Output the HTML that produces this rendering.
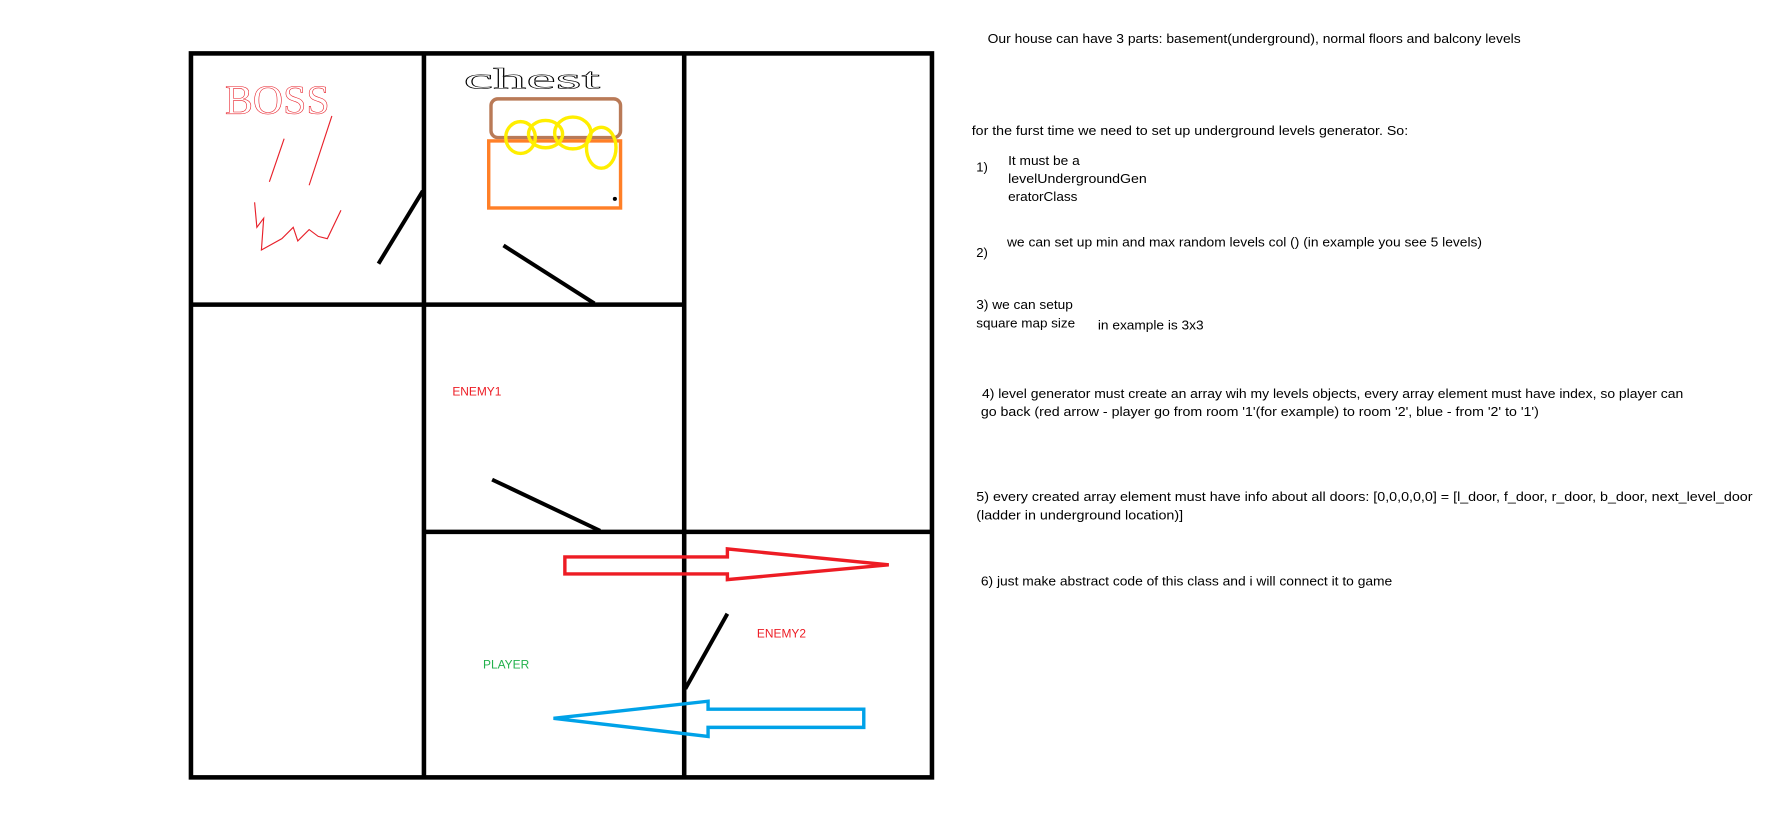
<!DOCTYPE html>
<html><head><meta charset="utf-8"><style>html,body{margin:0;padding:0;background:#fff}svg{display:block}</style></head><body>
<svg width="1773" height="820" viewBox="0 0 1560 721.5" xmlns="http://www.w3.org/2000/svg">
<rect width="1560" height="721.5" fill="#fff"/>
<g stroke="#000" stroke-width="4" fill="none">
<rect x="168" y="47" width="652" height="637"/>
<line x1="373" y1="47" x2="373" y2="684"/>
<line x1="602" y1="47" x2="602" y2="684"/>
<line x1="168" y1="268" x2="602" y2="268"/>
<line x1="373" y1="468" x2="820" y2="468"/>
<line x1="333" y1="232" x2="372" y2="168" stroke-width="3.5"/>
<line x1="443" y1="216" x2="523" y2="267" stroke-width="3.5"/>
<line x1="433" y1="422" x2="528" y2="467" stroke-width="3.5"/>
<line x1="640" y1="540" x2="603" y2="606" stroke-width="3.5"/>
</g>
<rect x="432" y="87" width="114" height="34" rx="6" fill="none" stroke="#b97a57" stroke-width="3"/>
<rect x="430" y="124" width="116" height="59" fill="none" stroke="#ff7f27" stroke-width="3"/>
<circle cx="541" cy="175" r="1.8" fill="#000"/>
<g fill="none" stroke="#ffee00" stroke-width="3">
<ellipse cx="458" cy="121" rx="13" ry="14"/>
<ellipse cx="480" cy="118" rx="15" ry="12"/>
<ellipse cx="504" cy="117" rx="16" ry="14"/>
<ellipse cx="529" cy="130" rx="13" ry="18"/>
</g>
<text x="408" y="78" font-family="Liberation Serif, serif" font-size="26" fill="none" stroke="#000" stroke-width="0.5" textLength="120" lengthAdjust="spacingAndGlyphs">chest</text>
<text x="198" y="100" font-family="Liberation Serif, serif" font-size="36" fill="none" stroke="#e8202a" stroke-width="0.5" textLength="92" lengthAdjust="spacingAndGlyphs">BOSS</text>
<g fill="none" stroke="#e8202a" stroke-width="1">
<line x1="250" y1="122" x2="237" y2="160"/>
<line x1="292" y1="102" x2="272" y2="163"/>
<polyline points="224,178 226,200 232,192 230,220 248,210 258,200 262,212 272,202 280,208 288,210 300,185"/>
</g>
<g fill="none" stroke-width="3">
<polygon points="497,490 640,490 640,483 782,497 640,510 640,505 497,505" stroke="#ed1c24"/>
<polygon points="760,624 623,624 623,617 487,632 623,648 623,640 760,640" stroke="#00a2e8"/>
</g>
<g font-family="Liberation Sans, sans-serif" font-size="10.5">
<text x="398" y="348" fill="#ed1c24">ENEMY1</text>
<text x="425" y="588" fill="#22b14c">PLAYER</text>
<text x="666" y="561" fill="#ed1c24">ENEMY2</text>
</g>
<g font-family="Liberation Sans, sans-serif" font-size="11.5" fill="#000" transform="translate(-3,0)">
<text x="872" y="38" textLength="469" lengthAdjust="spacingAndGlyphs">Our house can have 3 parts: basement(underground), normal floors and balcony levels</text>
<text x="858" y="119" textLength="384" lengthAdjust="spacingAndGlyphs">for the furst time we need to set up underground levels generator. So:</text>
<text x="862" y="151">1)</text>
<text x="890" y="145" textLength="63" lengthAdjust="spacingAndGlyphs">It must be a</text>
<text x="890" y="161" textLength="122" lengthAdjust="spacingAndGlyphs">levelUndergroundGen</text>
<text x="890" y="177" textLength="61" lengthAdjust="spacingAndGlyphs">eratorClass</text>
<text x="889" y="217" textLength="418" lengthAdjust="spacingAndGlyphs">we can set up min and max random levels col () (in example you see 5 levels)</text>
<text x="862" y="226">2)</text>
<text x="862" y="272" textLength="85" lengthAdjust="spacingAndGlyphs">3) we can setup</text>
<text x="862" y="288" textLength="87" lengthAdjust="spacingAndGlyphs">square map size</text>
<text x="969" y="290" textLength="93" lengthAdjust="spacingAndGlyphs">in example is 3x3</text>
<text x="867" y="350" textLength="617" lengthAdjust="spacingAndGlyphs">4) level generator must create an array wih my levels objects, every array element must have index, so player can</text>
<text x="866" y="366" textLength="491" lengthAdjust="spacingAndGlyphs">go back (red arrow - player go from room '1'(for example) to room '2', blue - from '2' to '1')</text>
<text x="862" y="441" textLength="683" lengthAdjust="spacingAndGlyphs">5) every created array element must have info about all doors: [0,0,0,0,0] = [l_door, f_door, r_door, b_door, next_level_door</text>
<text x="862" y="457" textLength="182" lengthAdjust="spacingAndGlyphs">(ladder in underground location)]</text>
<text x="866" y="515" textLength="362" lengthAdjust="spacingAndGlyphs">6) just make abstract code of this class and i will connect it to game</text>
</g>
</svg>
</body></html>
